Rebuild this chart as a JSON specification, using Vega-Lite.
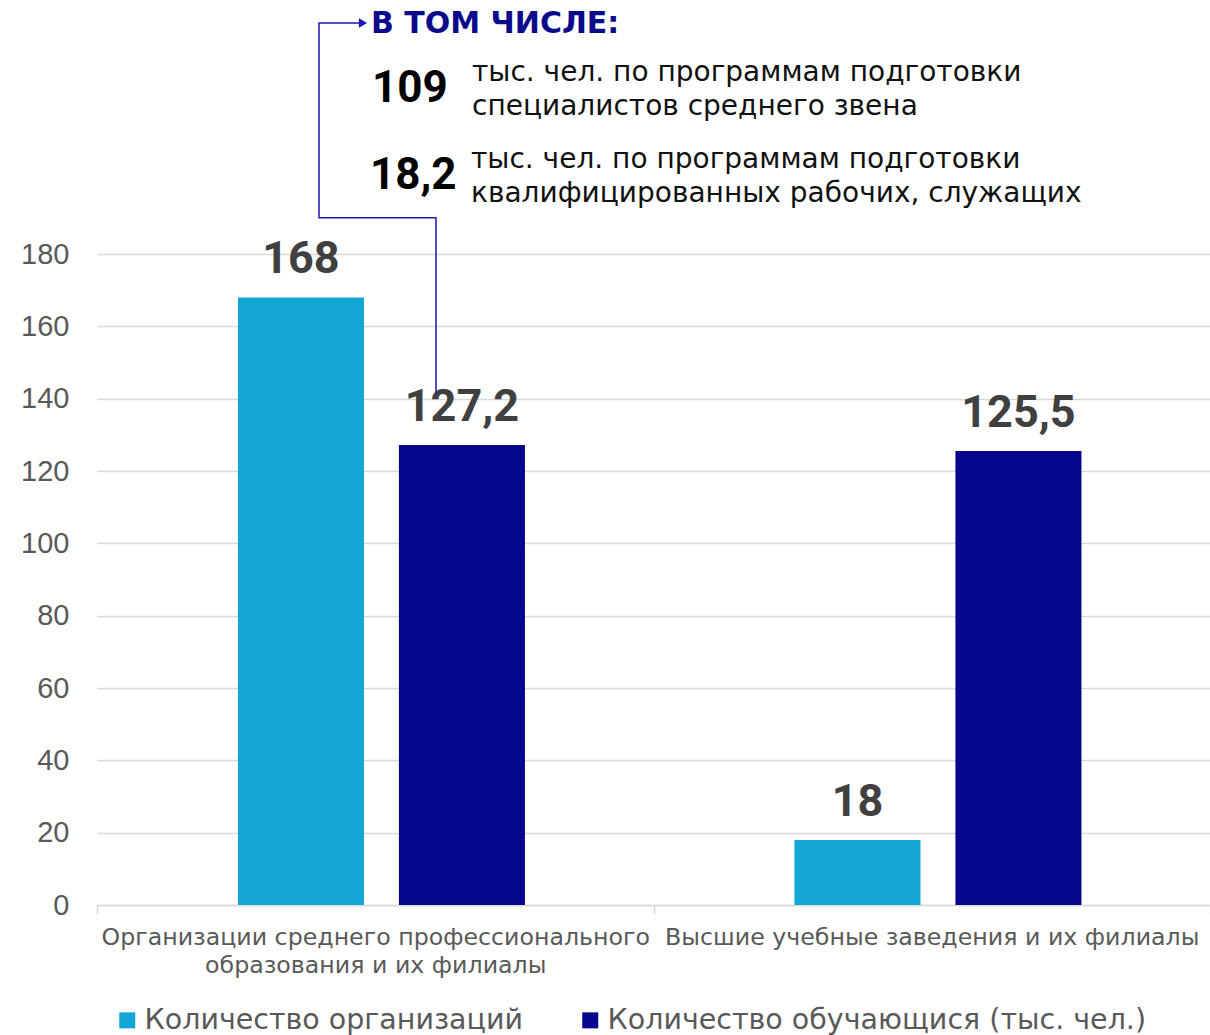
{
  "$schema": "https://vega.github.io/schema/vega-lite/v6.json",
  "width": 1113,
  "height": 651,
  "autosize": {"type": "none"},
  "padding": {"left": 97, "top": 254, "right": 0, "bottom": 130},
  "background": "white",
  "config": {"view": {"stroke": null}, "font": "DejaVu Sans"},
  "datasets": {
    "bars": [
      {"cat": "Организации среднего профессионального образования и их филиалы", "series": "Количество организаций", "value": 168, "label": "168"},
      {"cat": "Организации среднего профессионального образования и их филиалы", "series": "Количество обучающися (тыс. чел.)", "value": 127.2, "label": "127,2"},
      {"cat": "Высшие учебные заведения и их филиалы", "series": "Количество организаций", "value": 18, "label": "18"},
      {"cat": "Высшие учебные заведения и их филиалы", "series": "Количество обучающися (тыс. чел.)", "value": 125.5, "label": "125,5"}
    ],
    "notes": [
      {"kind": "head", "ax": 274, "value": 243.6, "t": "В ТОМ ЧИСЛЕ:"},
      {"kind": "num", "ax": 275, "value": 225.6, "t": "109"},
      {"kind": "txt", "ax": 375, "value": 230.0, "t": "тыс. чел. по программам подготовки"},
      {"kind": "txt", "ax": 375, "value": 220.6, "t": "специалистов среднего звена"},
      {"kind": "num", "ax": 273, "value": 201.6, "t": "18,2"},
      {"kind": "txt", "ax": 374, "value": 206.0, "t": "тыс. чел. по программам подготовки"},
      {"kind": "txt", "ax": 374, "value": 196.6, "t": "квалифицированных рабочих, служащих"}
    ],
    "path": [
      {"i": 1, "ax": 339, "value": 141.6},
      {"i": 2, "ax": 339, "value": 190.0},
      {"i": 3, "ax": 222, "value": 190.0},
      {"i": 4, "ax": 222, "value": 243.9},
      {"i": 5, "ax": 265, "value": 243.9}
    ],
    "arrow": [{"ax": 266, "value": 243.9}]
  },
  "layer": [
    {
      "data": {"name": "bars"},
      "encoding": {
        "x": {
          "field": "cat", "type": "nominal", "sort": null,
          "scale": {"paddingInner": 0, "paddingOuter": 0},
          "axis": {
            "title": null, "labelAngle": 0, "labelFontSize": 23.7, "labelColor": "#595959",
            "labelFont": "DejaVu Sans", "labelPadding": 11, "labelLimit": 0, "labelBaseline": "top",
            "labelLineHeight": 28,
            "labelExpr": "datum.value == 'Организации среднего профессионального образования и их филиалы' ? ['Организации среднего профессионального', 'образования и их филиалы'] : datum.label",
            "domainColor": "#d9d9d9", "domainWidth": 1.5, "tickColor": "#d9d9d9", "tickWidth": 1.5,
            "tickSize": 9, "tickBand": "extent", "grid": false
          }
        },
        "xOffset": {"field": "series", "type": "nominal", "sort": null, "scale": {"paddingInner": 0.217, "paddingOuter": 0.837, "align": 0.523}},
        "y": {
          "field": "value", "type": "quantitative", "scale": {"domain": [0, 180]},
          "axis": {
            "title": null, "values": [0, 20, 40, 60, 80, 100, 120, 140, 160, 180],
            "labelFont": "Liberation Sans", "labelFontSize": 29, "labelColor": "#595959",
            "labelPadding": 28, "ticks": false, "domain": false,
            "gridColor": "#d9d9d9", "gridWidth": 1.5
          }
        }
      },
      "layer": [
        {
          "mark": {"type": "bar"},
          "encoding": {
            "color": {
              "field": "series", "type": "nominal", "sort": null,
              "scale": {"range": ["#13A6D5", "#07078E"]},
              "legend": {
                "title": null, "orient": "none", "direction": "horizontal", "legendX": 16, "legendY": 752,
                "symbolType": "square", "symbolSize": 256, "symbolStrokeWidth": 0,
                "labelFont": "DejaVu Sans", "labelFontSize": 28.5, "labelColor": "#595959",
                "labelOffset": 3, "columnPadding": 52, "labelLimit": 0, "padding": 0
              }
            }
          }
        },
        {
          "mark": {"type": "text", "dy": -15, "baseline": "bottom", "fontSize": 45, "fontWeight": "bold", "color": "#404040", "font": "Roboto"},
          "encoding": {"text": {"field": "label", "type": "nominal"}}
        }
      ]
    },
    {
      "encoding": {
        "x": {"field": "ax", "type": "quantitative", "scale": {"domain": [0, 1113]}, "axis": null},
        "y": {"field": "value", "type": "quantitative", "scale": {"domain": [0, 180]}}
      },
      "layer": [
        {
          "data": {"name": "path"},
          "mark": {"type": "line", "color": "#1a1ab4", "strokeWidth": 1.5},
          "encoding": {"order": {"field": "i", "type": "quantitative"}}
        },
        {
          "data": {"name": "arrow"},
          "mark": {"type": "point", "shape": "triangle-right", "filled": true, "size": 90, "color": "#1a1ab4", "opacity": 1}
        },
        {
          "data": {"name": "notes"},
          "transform": [{"filter": "datum.kind == 'head'"}],
          "mark": {"type": "text", "align": "left", "baseline": "middle", "fontSize": 30, "fontWeight": "bold", "color": "#0A0A8C", "font": "DejaVu Sans"},
          "encoding": {"text": {"field": "t", "type": "nominal"}}
        },
        {
          "data": {"name": "notes"},
          "transform": [{"filter": "datum.kind == 'num'"}],
          "mark": {"type": "text", "align": "left", "baseline": "middle", "fontSize": 44, "fontWeight": "bold", "color": "#000000", "font": "Roboto"},
          "encoding": {"text": {"field": "t", "type": "nominal"}}
        },
        {
          "data": {"name": "notes"},
          "transform": [{"filter": "datum.kind == 'txt'"}],
          "mark": {"type": "text", "align": "left", "baseline": "middle", "fontSize": 28, "color": "#111111", "font": "DejaVu Sans"},
          "encoding": {"text": {"field": "t", "type": "nominal"}}
        }
      ]
    }
  ],
  "resolve": {"scale": {"x": "independent"}}
}
